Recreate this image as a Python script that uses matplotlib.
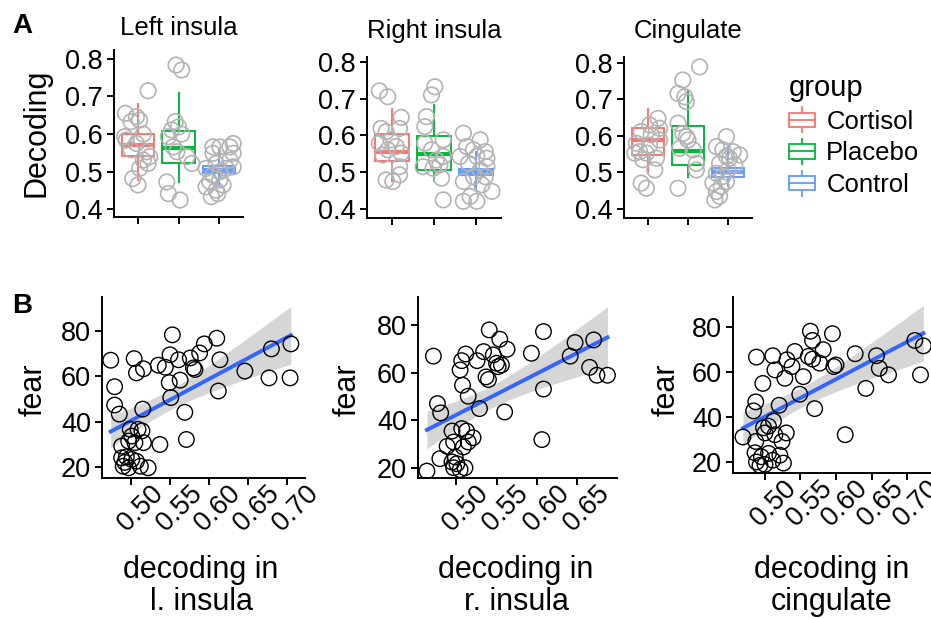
import numpy as np
import matplotlib.pyplot as plt
from matplotlib.legend_handler import HandlerBase
from matplotlib.patches import Rectangle
from matplotlib.lines import Line2D

plt.rcParams['font.family'] = ['Liberation Sans', 'DejaVu Sans']

W, H = 931, 619

groups = ["Cortisol", "Placebo", "Control"]
group_colors = ["#F8766D", "#00BA38", "#619CFF"]
regions = ["Left insula", "Right insula", "Cingulate"]

# box stats per group: whisker low, q1, median, q3, whisker high
box_left = [[0.478, 0.542, 0.571, 0.600, 0.680],
            [0.473, 0.522, 0.564, 0.608, 0.710],
            [0.465, 0.497, 0.505, 0.515, 0.560]]
box_right = [[0.475, 0.531, 0.556, 0.604, 0.671],
             [0.475, 0.506, 0.549, 0.599, 0.683],
             [0.452, 0.493, 0.502, 0.509, 0.556]]
box_cing = [[0.498, 0.548, 0.589, 0.621, 0.673],
            [0.489, 0.521, 0.560, 0.627, 0.723],
            [0.462, 0.489, 0.500, 0.512, 0.571]]

# jittered points: (offset from group position, decoding)
pts_left = [
    [(0.25, 0.715), (-0.31, 0.655), (-0.04, 0.646), (-0.17, 0.633), (0.04, 0.637), (-0.33, 0.593),
     (0.13, 0.600), (-0.04, 0.575), (-0.17, 0.558), (0.21, 0.553), (0.13, 0.531), (0.25, 0.522),
     (0.04, 0.509), (-0.13, 0.482), (0.00, 0.465), (-0.29, 0.584), (0.29, 0.540)],
    [(-0.06, 0.783), (0.08, 0.770), (-0.08, 0.633), (-0.17, 0.611), (0.00, 0.619), (-0.25, 0.593),
     (0.08, 0.600), (-0.13, 0.566), (0.21, 0.540), (0.33, 0.522), (-0.29, 0.473), (-0.25, 0.442),
     (0.04, 0.425), (-0.04, 0.553)],
    [(0.02, 0.566), (-0.15, 0.549), (0.27, 0.566), (0.35, 0.549), (-0.32, 0.509), (-0.07, 0.522),
     (0.18, 0.509), (0.35, 0.513), (-0.15, 0.491), (0.02, 0.478), (-0.32, 0.460), (-0.07, 0.451),
     (-0.19, 0.434), (0.10, 0.465), (0.27, 0.531), (-0.23, 0.474), (0.02, 0.500), (0.35, 0.575),
     (-0.15, 0.566), (-0.03, 0.442)],
]
pts_right = [
    [(-0.30, 0.721), (-0.10, 0.705), (0.22, 0.649), (-0.26, 0.619), (-0.14, 0.610), (0.18, 0.619),
     (-0.30, 0.579), (-0.10, 0.561), (0.10, 0.570), (0.22, 0.552), (-0.22, 0.547), (0.18, 0.515),
     (-0.14, 0.479), (0.02, 0.475), (0.18, 0.493), (-0.02, 0.588)],
    [(0.02, 0.732), (-0.06, 0.710), (-0.18, 0.651), (-0.22, 0.624), (-0.22, 0.579), (-0.06, 0.561),
     (0.22, 0.588), (0.22, 0.543), (-0.26, 0.515), (-0.02, 0.511), (0.14, 0.520), (0.18, 0.484),
     (0.22, 0.425), (0.06, 0.533)],
    [(-0.30, 0.606), (0.10, 0.588), (-0.22, 0.570), (-0.06, 0.561), (0.22, 0.556), (0.26, 0.538),
     (-0.38, 0.543), (-0.18, 0.524), (0.10, 0.506), (-0.06, 0.488), (0.22, 0.488), (-0.30, 0.475),
     (0.14, 0.466), (0.38, 0.448), (-0.14, 0.434), (0.02, 0.421), (-0.30, 0.421), (0.26, 0.515),
     (0.02, 0.543)],
]
pts_cing = [
    [(0.25, 0.648), (0.04, 0.630), (-0.17, 0.612), (0.29, 0.621), (0.08, 0.603), (-0.29, 0.580),
     (0.04, 0.575), (0.29, 0.589), (-0.21, 0.557), (-0.04, 0.553), (0.21, 0.539), (-0.13, 0.535),
     (0.17, 0.507), (-0.17, 0.471), (-0.04, 0.457), (-0.33, 0.553)],
    [(0.29, 0.789), (-0.13, 0.753), (-0.25, 0.716), (-0.08, 0.707), (-0.04, 0.694), (-0.25, 0.635),
     (-0.13, 0.607), (0.00, 0.589), (-0.21, 0.566), (0.13, 0.562), (0.21, 0.525), (0.21, 0.507),
     (-0.25, 0.457), (-0.04, 0.598)],
    [(-0.04, 0.598), (-0.29, 0.571), (-0.13, 0.562), (0.13, 0.557), (0.29, 0.548), (0.04, 0.539),
     (-0.21, 0.525), (0.17, 0.521), (-0.29, 0.498), (-0.13, 0.489), (-0.38, 0.471), (-0.17, 0.462),
     (-0.29, 0.448), (-0.21, 0.435), (-0.33, 0.425), (-0.04, 0.475), (0.00, 0.507), (-0.04, 0.544)],
]

# panel B: (decoding, fear)
fear_left = [
    (0.474, 67.1), (0.479, 55.4), (0.479, 47.3), (0.485, 43.3), (0.504, 67.8), (0.507, 61.5),
    (0.516, 63.3), (0.515, 45.5), (0.535, 64.9), (0.544, 64.0), (0.553, 78.3), (0.550, 69.5),
    (0.561, 67.3), (0.549, 57.2), (0.563, 58.3), (0.551, 50.6), (0.569, 44.1), (0.576, 68.1),
    (0.582, 63.0), (0.588, 70.3), (0.594, 74.3), (0.610, 76.8), (0.614, 67.3), (0.612, 53.5),
    (0.580, 63.7), (0.646, 62.3), (0.680, 72.1), (0.677, 59.3), (0.705, 74.3), (0.704, 59.3),
    (0.537, 29.9), (0.571, 32.1), (0.499, 36.6), (0.509, 36.6), (0.514, 35.9), (0.501, 33.6),
    (0.505, 30.7), (0.516, 30.7), (0.488, 29.2), (0.497, 31.4), (0.488, 24.0), (0.494, 24.4),
    (0.501, 23.3), (0.490, 20.3), (0.497, 19.6), (0.507, 22.5), (0.522, 19.6), (0.512, 20.3),
    (0.492, 22.0)]
fear_right = [
    (0.472, 66.9), (0.477, 47.0), (0.481, 43.1), (0.507, 65.0), (0.505, 61.1), (0.512, 67.8),
    (0.508, 54.7), (0.515, 50.1), (0.526, 65.0), (0.534, 68.8), (0.541, 77.9), (0.537, 58.2),
    (0.540, 57.1), (0.546, 67.4), (0.554, 74.0), (0.550, 63.9), (0.552, 62.5), (0.556, 63.2),
    (0.563, 69.8), (0.529, 44.9), (0.560, 43.5), (0.593, 68.1), (0.608, 77.2), (0.608, 53.1),
    (0.641, 66.9), (0.647, 72.6), (0.665, 62.2), (0.670, 73.7), (0.674, 58.9), (0.687, 58.9),
    (0.464, 18.7), (0.480, 23.9), (0.489, 29.1), (0.495, 35.5), (0.497, 30.9), (0.499, 24.6),
    (0.495, 22.5), (0.501, 21.8), (0.497, 20.1), (0.505, 19.3), (0.511, 20.1), (0.507, 36.5),
    (0.513, 35.5), (0.515, 30.9), (0.521, 32.7), (0.509, 28.8), (0.606, 31.9)]
fear_cing = [
    (0.488, 66.6), (0.497, 54.9), (0.487, 46.7), (0.484, 42.7), (0.511, 67.2), (0.514, 60.9),
    (0.520, 45.2), (0.528, 57.2), (0.531, 65.4), (0.538, 62.4), (0.542, 69.1), (0.554, 57.9),
    (0.549, 50.1), (0.564, 78.1), (0.567, 74.0), (0.561, 66.9), (0.567, 65.7), (0.577, 63.9),
    (0.582, 69.9), (0.570, 43.7), (0.595, 77.0), (0.597, 62.4), (0.600, 63.1), (0.627, 68.1),
    (0.642, 52.7), (0.657, 67.2), (0.661, 61.6), (0.674, 58.7), (0.711, 74.0), (0.723, 71.6),
    (0.719, 58.7),
    (0.469, 31.1), (0.487, 29.1), (0.486, 24.1), (0.488, 20.0), (0.495, 22.3), (0.493, 18.5),
    (0.500, 18.9), (0.505, 23.8), (0.498, 35.2), (0.505, 35.9), (0.512, 38.2), (0.500, 32.9),
    (0.514, 32.1), (0.524, 29.1), (0.530, 32.9), (0.521, 23.0), (0.526, 19.5), (0.511, 20.8),
    (0.613, 32.1)]

xlabels_b = ["decoding in\nl. insula", "decoding in\nr. insula", "decoding in\ncingulate"]
xticks_b = [[0.50, 0.55, 0.60, 0.65, 0.70], [0.50, 0.55, 0.60, 0.65], [0.50, 0.55, 0.60, 0.65, 0.70]]


def px_axes(fig, left, right, top, bottom):
    return fig.add_axes([left / W, 1 - bottom / H, (right - left) / W, (bottom - top) / H])


def style(ax, size):
    for s in ["top", "right"]:
        ax.spines[s].set_visible(False)
    for s in ["left", "bottom"]:
        ax.spines[s].set_linewidth(1.4)
    ax.tick_params(width=1.4, length=5, labelsize=size, color="black", pad=3)


class BoxKey(HandlerBase):
    def create_artists(self, legend, orig_handle, xdescent, ydescent, width, height, fontsize, trans):
        c = orig_handle.get_edgecolor()
        x0, y0 = -xdescent, -ydescent
        xm = x0 + width / 2
        rect = Rectangle((x0, y0 + 0.14 * height), width, 0.72 * height, facecolor="white",
                         edgecolor=c, lw=1.3, transform=trans)
        whisk = Line2D([xm, xm], [y0 - 0.13 * height, y0 + 1.13 * height], color=c, lw=1.3, transform=trans)
        med = Line2D([x0, x0 + width], [y0 + 0.5 * height] * 2, color=c, lw=1.3, transform=trans)
        return [whisk, rect, med]


fig = plt.figure(figsize=(W / 100, H / 100), dpi=100)

# ---- panel A ----
top_axes = [(113.7, 243.3, 50, 217), (366.8, 501.2, 57, 218), (624, 752, 57, 218)]
top_ylims = [(0.380, 0.823), (0.3757, 0.813), (0.3755, 0.816)]
title_base = [35, 38, 38]
for i, (boxes, pts) in enumerate(zip([box_left, box_right, box_cing], [pts_left, pts_right, pts_cing])):
    ax = px_axes(fig, *top_axes[i])
    stats = []
    for g, b in enumerate(boxes):
        stats.append(dict(whislo=b[0], q1=b[1], med=b[2], q3=b[3], whishi=b[4], fliers=[], label=groups[g]))
    bp = ax.bxp(stats, positions=[1, 2, 3], widths=0.8, showfliers=False, showcaps=False,
                patch_artist=True, manage_ticks=False)
    for g in range(3):
        c = group_colors[g]
        bp["boxes"][g].set(facecolor="white", edgecolor=c, linewidth=1.4)
        bp["medians"][g].set(color=c, linewidth=3)
        bp["whiskers"][2 * g].set(color=c, linewidth=1.4)
        bp["whiskers"][2 * g + 1].set(color=c, linewidth=1.4)
    for g in range(3):
        xs = [g + 1 + p[0] for p in pts[g]]
        ys = [p[1] for p in pts[g]]
        ax.scatter(xs, ys, s=125, facecolors="none", edgecolors="#b3b3b3", linewidths=1.2, zorder=5)
    ax.set_xlim(0.4, 3.6)
    ax.set_ylim(*top_ylims[i])
    ax.set_xticks([1, 2, 3])
    ax.set_xticklabels([])
    ax.set_yticks([0.4, 0.5, 0.6, 0.7, 0.8])
    ax.set_yticklabels(["0.4", "0.5", "0.6", "0.7", "0.8"])
    style(ax, 19.5)
    cx = (top_axes[i][0] + top_axes[i][1]) / 2
    fig.text(cx / W, 1 - title_base[i] / H, regions[i], ha="center", va="baseline", fontsize=18.5)

fig.text(36 / W, 1 - 133 / H, "Decoding", rotation=90, ha="center", va="center", fontsize=22)
fig.text(12 / W, 1 - 33 / H, "A", fontsize=20, fontweight="bold", va="baseline")
fig.text(12 / W, 1 - 313 / H, "B", fontsize=20, fontweight="bold", va="baseline")

handles = [Rectangle((0, 0), 1, 1, facecolor="white", edgecolor=c) for c in group_colors]
fig.legend(handles, groups, handler_map={Rectangle: BoxKey()}, loc="upper left",
           bbox_to_anchor=(789 / W, 1 - 74 / H), frameon=False, title="group", title_fontsize=21,
           fontsize=18.5, alignment="left", borderpad=0, handlelength=1.0, handleheight=0.8,
           handletextpad=0.45, labelspacing=0.3, borderaxespad=0)

# ---- panel B ----
bot_axes = [(102, 305, 297, 478), (418, 617, 297, 478), (733, 960, 297, 473)]
bot_xlims = [(0.4628, 0.7231), (0.453, 0.6988), (0.455, 0.7746)]
bot_ylims = [(15.1, 95.0), (15.8, 91.7), (15.1, 93.3)]
label_x = [201, 516, 832]
ylabel_x = [34, 348, 667]
for i, data in enumerate([fear_left, fear_right, fear_cing]):
    ax = px_axes(fig, *bot_axes[i])
    x = np.array([d[0] for d in data])
    y = np.array([d[1] for d in data])
    # linear fit with 95% confidence band
    n = len(x)
    slope, icpt = np.polyfit(x, y, 1)
    xx = np.linspace(x.min(), x.max(), 80)
    yy = icpt + slope * xx
    resid = y - (icpt + slope * x)
    s_err = np.sqrt(np.sum(resid ** 2) / (n - 2))
    se = s_err * np.sqrt(1 / n + (xx - x.mean()) ** 2 / np.sum((x - x.mean()) ** 2))
    ax.fill_between(xx, yy - 2.01 * se, yy + 2.01 * se, color="#999999", alpha=0.4, lw=0, zorder=1)
    ax.plot(xx, yy, color="#3366FF", lw=2.8, zorder=2)
    ax.scatter(x, y, s=125, facecolors="none", edgecolors="black", linewidths=1.0, zorder=3)
    ax.set_xlim(*bot_xlims[i])
    ax.set_ylim(*bot_ylims[i])
    ax.set_yticks([20, 40, 60, 80])
    ax.set_xticks(xticks_b[i])
    ax.set_xticklabels(["%.2f" % t for t in xticks_b[i]], rotation=45, ha="center", va="top",
                       rotation_mode="anchor")
    style(ax, 19.5)
    ax.tick_params(axis="x", pad=10)
    fig.text(ylabel_x[i] / W, 1 - 390 / H, "fear", rotation=90, ha="center", va="center", fontsize=22)
    fig.text(label_x[i] / W, 1 - 586 / H, xlabels_b[i], ha="center", va="center", fontsize=22,
             multialignment="center", linespacing=1.1)

fig.savefig("out.png", dpi=100)
